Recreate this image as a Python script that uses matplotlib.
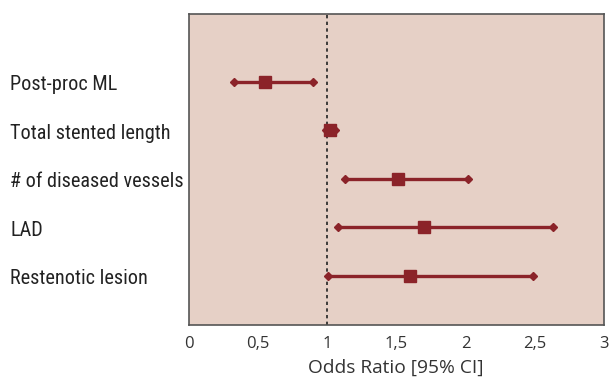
import matplotlib
matplotlib.use("Agg")
import matplotlib.pyplot as plt
from matplotlib.ticker import FixedLocator, FixedFormatter

labels = ["Post-proc ML", "Total stented length", "# of diseased vessels", "LAD", "Restenotic lesion"]
odds = [0.55, 1.02, 1.51, 1.70, 1.60]
lower = [0.33, 0.99, 1.13, 1.08, 1.01]
upper = [0.90, 1.06, 2.02, 2.63, 2.49]
xticks = [0, 0.5, 1, 1.5, 2, 2.5, 3]
xticklabels = ["0", "0,5", "1", "1,5", "2", "2,5", "3"]

plt.rcParams['font.family'] = ["Roboto Condensed", "DejaVu Sans"]
axis_font = ["Open Sans", "DejaVu Sans"]

color = "#8b2329"
fig = plt.figure(figsize=(6.13, 3.8), dpi=100)
ax = fig.add_axes([188.5/613, 1 - 325/380, (604 - 188.5)/613, (325 - 14)/380])
ax.set_facecolor("#e6d0c6")

ys = list(range(1, len(labels) + 1))
ax.axvline(1, color="#222222", linestyle=(0, (2, 2)), linewidth=1.2, zorder=1)
for y, o, lo, hi in zip(ys, odds, lower, upper):
    ax.plot([lo, hi], [y, y], color=color, linewidth=2.4, zorder=2, solid_capstyle="butt")
    ax.plot([lo, hi], [y, y], linestyle="none", marker="D", markersize=4, color=color, zorder=3)
    ax.plot([o], [y], linestyle="none", marker="s", markersize=9, color=color, zorder=4)

ax.set_xlim(0, 3)
ax.set_ylim(6.01, -0.40)
ax.xaxis.set_major_locator(FixedLocator(xticks))
ax.xaxis.set_major_formatter(FixedFormatter(xticklabels))
ax.set_yticks([])
ax.tick_params(axis="x", length=0, pad=8)
for t in ax.get_xticklabels():
    t.set_fontfamily(axis_font)
    t.set_fontsize(12)
    t.set_color("#333333")
for s in ax.spines.values():
    s.set_color("#555555")
    s.set_linewidth(1.2)
ax.set_xlabel("Odds Ratio [95% CI]", fontsize=13.8, color="#333333", labelpad=5,
              family=axis_font)

for y, lab in zip(ys, labels):
    ax.annotate(lab, xy=(10 / 613, y), xycoords=("figure fraction", "data"),
                xytext=(0, -2), textcoords="offset points",
                va="center", ha="left", fontsize=14.6, color="#222222")

fig.savefig("out.png", dpi=100)
